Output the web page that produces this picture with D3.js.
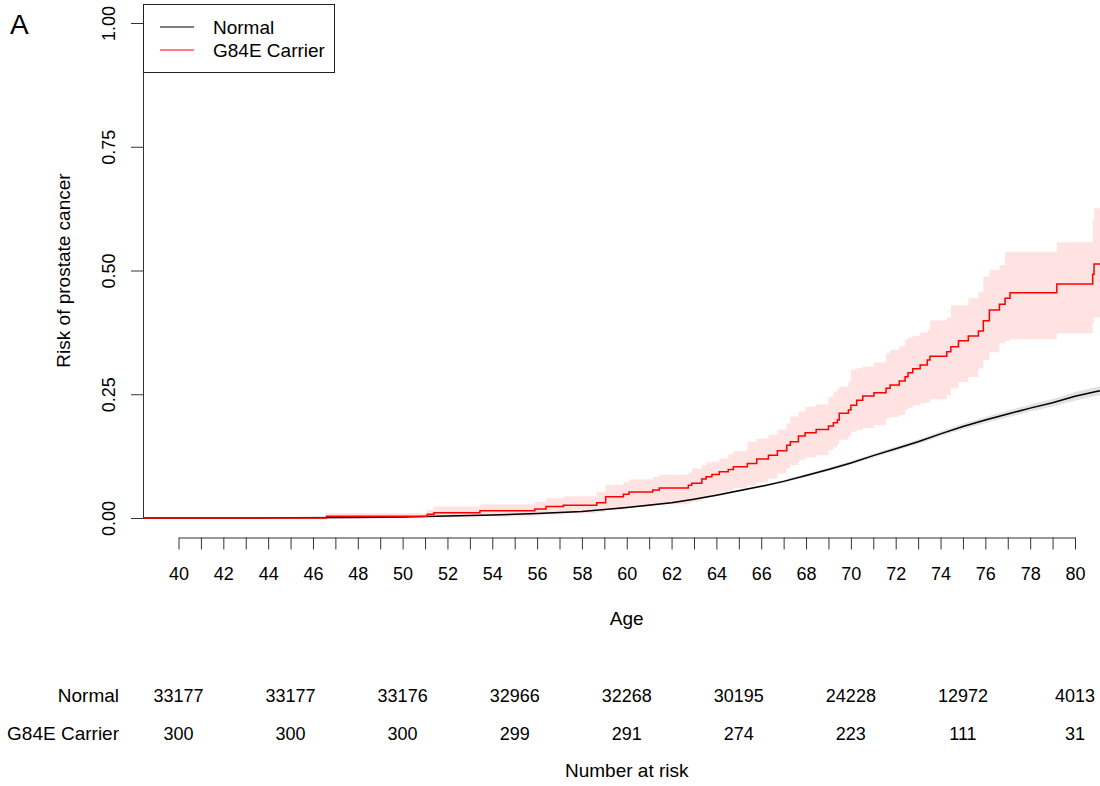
<!DOCTYPE html>
<html>
<head>
<meta charset="utf-8">
<script src="https://cdn.jsdelivr.net/npm/d3@7"></script>
<style>
  body { margin: 0; background: #fff; }
  svg text { font-family: "Liberation Sans", Arial, Helvetica, sans-serif; fill: #000; }
</style>
</head>
<body>
<div class="graph-area"></div>
<script>
// G84E carriers: Kaplan-Meier cumulative risk (step function) with 95% band
const carrierAge = [38.4, 46.6, 51.1, 51.4, 53.45, 55.9, 56.4, 57.17, 58.66, 59.06, 59.85, 60.1, 61.16, 61.45, 62.75, 62.9, 63.35, 63.54, 63.8, 64.13, 64.53, 64.76, 65.38, 65.8, 66.32, 66.72, 67.14, 67.3, 67.66, 67.96, 68.45, 69.0, 69.22, 69.4, 69.48, 69.89, 70.0, 70.26, 70.53, 71.03, 71.57, 71.75, 72.16, 72.42, 72.55, 72.76, 73.09, 73.41, 73.53, 74.28, 74.46, 74.8, 75.24, 75.69, 75.91, 76.18, 76.63, 76.88, 77.1, 79.19, 80.79, 80.85, 81.6];
const carrierRisk = [0, 0.0034, 0.0074, 0.0107, 0.0148, 0.018, 0.023, 0.026, 0.031, 0.043, 0.048, 0.0525, 0.0566, 0.0606, 0.066, 0.07, 0.079, 0.0835, 0.088, 0.0936, 0.098, 0.1037, 0.11, 0.119, 0.1266, 0.136, 0.147, 0.154, 0.1657, 0.1724, 0.179, 0.186, 0.1926, 0.198, 0.2114, 0.218, 0.228, 0.238, 0.2465, 0.253, 0.262, 0.2687, 0.2768, 0.2855, 0.2936, 0.3017, 0.309, 0.319, 0.327, 0.336, 0.346, 0.358, 0.3677, 0.3778, 0.3986, 0.42, 0.4316, 0.4438, 0.4552, 0.4727, 0.4923, 0.5131, 0.5131];
const carrierLower = [0, 0, 0.0005, 0.001, 0.003, 0.005, 0.007, 0.009, 0.012, 0.016, 0.019, 0.022, 0.025, 0.028, 0.03, 0.033, 0.04, 0.044, 0.048, 0.052, 0.056, 0.06, 0.066, 0.072, 0.08, 0.09, 0.1, 0.107, 0.117, 0.122, 0.127, 0.137, 0.143, 0.15, 0.158, 0.165, 0.174, 0.178, 0.182, 0.188, 0.201, 0.204, 0.208, 0.218, 0.222, 0.228, 0.232, 0.235, 0.24, 0.248, 0.262, 0.275, 0.285, 0.302, 0.319, 0.335, 0.353, 0.358, 0.361, 0.373, 0.395, 0.405, 0.405];
const carrierUpper = [0, 0.0095, 0.016, 0.023, 0.028, 0.033, 0.04, 0.044, 0.053, 0.067, 0.072, 0.078, 0.083, 0.087, 0.092, 0.1, 0.107, 0.112, 0.114, 0.12, 0.129, 0.135, 0.154, 0.16, 0.168, 0.179, 0.191, 0.205, 0.215, 0.225, 0.23, 0.245, 0.255, 0.26, 0.265, 0.275, 0.299, 0.303, 0.306, 0.314, 0.333, 0.34, 0.347, 0.36, 0.364, 0.368, 0.375, 0.38, 0.399, 0.405, 0.43, 0.43, 0.444, 0.457, 0.4875, 0.501, 0.511, 0.538, 0.538, 0.557, 0.603, 0.626, 0.626];

// Normal (non-carriers): many small steps, read as a dense curve
const normalAge = [38.4, 45, 48, 50, 52, 54, 56, 58, 60, 62, 63, 64, 65, 66, 67, 68, 69, 70, 71, 72, 73, 74, 75, 76, 77, 78, 79, 80, 81, 81.6];
const normalRisk = [0, 0.0003, 0.001, 0.002, 0.004, 0.006, 0.009, 0.013, 0.021, 0.031, 0.038, 0.046, 0.055, 0.064, 0.074, 0.086, 0.098, 0.111, 0.126, 0.14, 0.154, 0.17, 0.185, 0.198, 0.21, 0.222, 0.233, 0.246, 0.256, 0.262];
const normalLower = [0, 0.0002, 0.0008, 0.0017, 0.0035, 0.0054, 0.0083, 0.0121, 0.0198, 0.0295, 0.0363, 0.0441, 0.0528, 0.0616, 0.0714, 0.083, 0.0947, 0.1074, 0.1222, 0.1358, 0.1494, 0.165, 0.1795, 0.192, 0.2035, 0.215, 0.2255, 0.2375, 0.247, 0.2525];
const normalUpper = [0, 0.0004, 0.0012, 0.0023, 0.0045, 0.0066, 0.0097, 0.0139, 0.0222, 0.0325, 0.0397, 0.0479, 0.0572, 0.0664, 0.0766, 0.089, 0.1013, 0.1146, 0.1298, 0.1442, 0.1586, 0.175, 0.1905, 0.204, 0.2165, 0.229, 0.2405, 0.2545, 0.265, 0.2715];

const yTicks = [0, 0.25, 0.5, 0.75, 1];
const riskAges = [40, 45, 50, 55, 60, 65, 70, 75, 80];
const normalAtRisk = [33177, 33177, 33176, 32966, 32268, 30195, 24228, 12972, 4013];
const carrierAtRisk = [300, 300, 300, 299, 291, 274, 223, 111, 31];
const groupNames = ['Normal', 'G84E Carrier'];
const groupColors = ['#000000', '#ff0000'];

const width = 1100;
const height = 786;
const yAxisX = 143;
const fontSize = '19px';

const x = d3.scaleLinear().domain([40, 80]).range([178.5, 1075]);
const y = d3.scaleLinear().domain([0, 1]).range([518, 23]);

const svg = d3.select('.graph-area')
  .append('svg')
  .attr('width', width)
  .attr('height', height);

svg.append('defs').append('clipPath')
  .attr('id', 'plot-clip')
  .append('rect')
  .attr('x', yAxisX)
  .attr('y', 0)
  .attr('width', width - yAxisX)
  .attr('height', 530);

const toRows = (ages, est, lo, hi) => ages.map((a, i) => ({ age: a, est: est[i], lo: lo[i], hi: hi[i] }));
const carrier = toRows(carrierAge, carrierRisk, carrierLower, carrierUpper);
const normal = toRows(normalAge, normalRisk, normalLower, normalUpper);

const plot = svg.append('g').attr('clip-path', 'url(#plot-clip)');

// confidence bands
plot.append('path')
  .datum(normal)
  .attr('d', d3.area().curve(d3.curveLinear).x(d => x(d.age)).y0(d => y(d.lo)).y1(d => y(d.hi)))
  .attr('fill', '#bebebe')
  .attr('fill-opacity', 0.45);

plot.append('path')
  .datum(carrier)
  .attr('d', d3.area().curve(d3.curveStepAfter).x(d => x(d.age)).y0(d => y(d.lo)).y1(d => y(d.hi)))
  .attr('fill', '#ff0000')
  .attr('fill-opacity', 0.11);

// cumulative risk curves
plot.append('path')
  .datum(normal)
  .attr('d', d3.line().curve(d3.curveLinear).x(d => x(d.age)).y(d => y(d.est)))
  .attr('fill', 'none')
  .attr('stroke', groupColors[0])
  .attr('stroke-width', 1.5);

plot.append('path')
  .datum(carrier)
  .attr('d', d3.line().curve(d3.curveStepAfter).x(d => x(d.age)).y(d => y(d.est)))
  .attr('fill', 'none')
  .attr('stroke', groupColors[1])
  .attr('stroke-width', 1.5);

// y axis with rotated labels
const yAxis = svg.append('g')
  .attr('transform', `translate(${yAxisX},0)`)
  .call(d3.axisLeft(y).tickValues(yTicks).tickFormat(d3.format('.2f')).tickSize(12).tickSizeOuter(0));
yAxis.select('.domain').attr('stroke', '#333');
yAxis.selectAll('.tick line').attr('stroke', '#333');
yAxis.selectAll('.tick text')
  .attr('transform', 'rotate(-90)')
  .attr('x', 0)
  .attr('y', -(yAxisX - 115))
  .attr('dy', 0)
  .attr('text-anchor', 'middle')
  .style('font-size', '18px');

svg.append('text')
  .attr('transform', `translate(70,${(y(0) + y(1)) / 2}) rotate(-90)`)
  .attr('text-anchor', 'middle')
  .style('font-size', fontSize)
  .text('Risk of prostate cancer');

// x axis, a tick each year, labels every second year
const xAxis = svg.append('g')
  .attr('transform', 'translate(0,537.5)')
  .call(d3.axisBottom(x).tickValues(d3.range(40, 81)).tickFormat(d => d % 2 === 0 ? d : '').tickSize(12).tickSizeOuter(0));
xAxis.select('.domain').attr('stroke', '#333');
xAxis.selectAll('.tick line').attr('stroke', '#333');
xAxis.selectAll('.tick text')
  .attr('y', 42.5)
  .attr('dy', 0)
  .style('font-size', '18px');

svg.append('text')
  .attr('x', (x(40) + x(80)) / 2)
  .attr('y', 625)
  .attr('text-anchor', 'middle')
  .style('font-size', fontSize)
  .text('Age');

// panel letter
svg.append('text')
  .attr('x', 10)
  .attr('y', 34)
  .style('font-size', '28px')
  .text('A');

// legend
const legend = svg.append('g');
legend.append('rect')
  .attr('x', 143.5)
  .attr('y', 4.5)
  .attr('width', 191)
  .attr('height', 68)
  .attr('fill', '#fff')
  .attr('stroke', '#222');
groupNames.forEach((name, i) => {
  const ly = 27 + i * 23;
  legend.append('line')
    .attr('x1', 160).attr('x2', 194)
    .attr('y1', ly).attr('y2', ly)
    .attr('stroke', groupColors[i])
    .attr('stroke-width', 1.2);
  legend.append('text')
    .attr('x', 213)
    .attr('y', ly)
    .attr('dy', '0.35em')
    .style('font-size', fontSize)
    .text(name);
});

// number at risk table
const tableRows = [normalAtRisk, carrierAtRisk];
tableRows.forEach((row, i) => {
  const ty = 702 + i * 38;
  svg.append('text')
    .attr('x', 119)
    .attr('y', ty)
    .attr('text-anchor', 'end')
    .style('font-size', fontSize)
    .text(groupNames[i]);
  svg.selectAll(null)
    .data(row)
    .enter()
    .append('text')
    .attr('x', (_d, j) => x(riskAges[j]))
    .attr('y', ty)
    .attr('text-anchor', 'middle')
    .style('font-size', '18px')
    .text(d => d);
});

svg.append('text')
  .attr('x', (x(40) + x(80)) / 2)
  .attr('y', 777)
  .attr('text-anchor', 'middle')
  .style('font-size', fontSize)
  .text('Number at risk');
</script>
</body>
</html>
